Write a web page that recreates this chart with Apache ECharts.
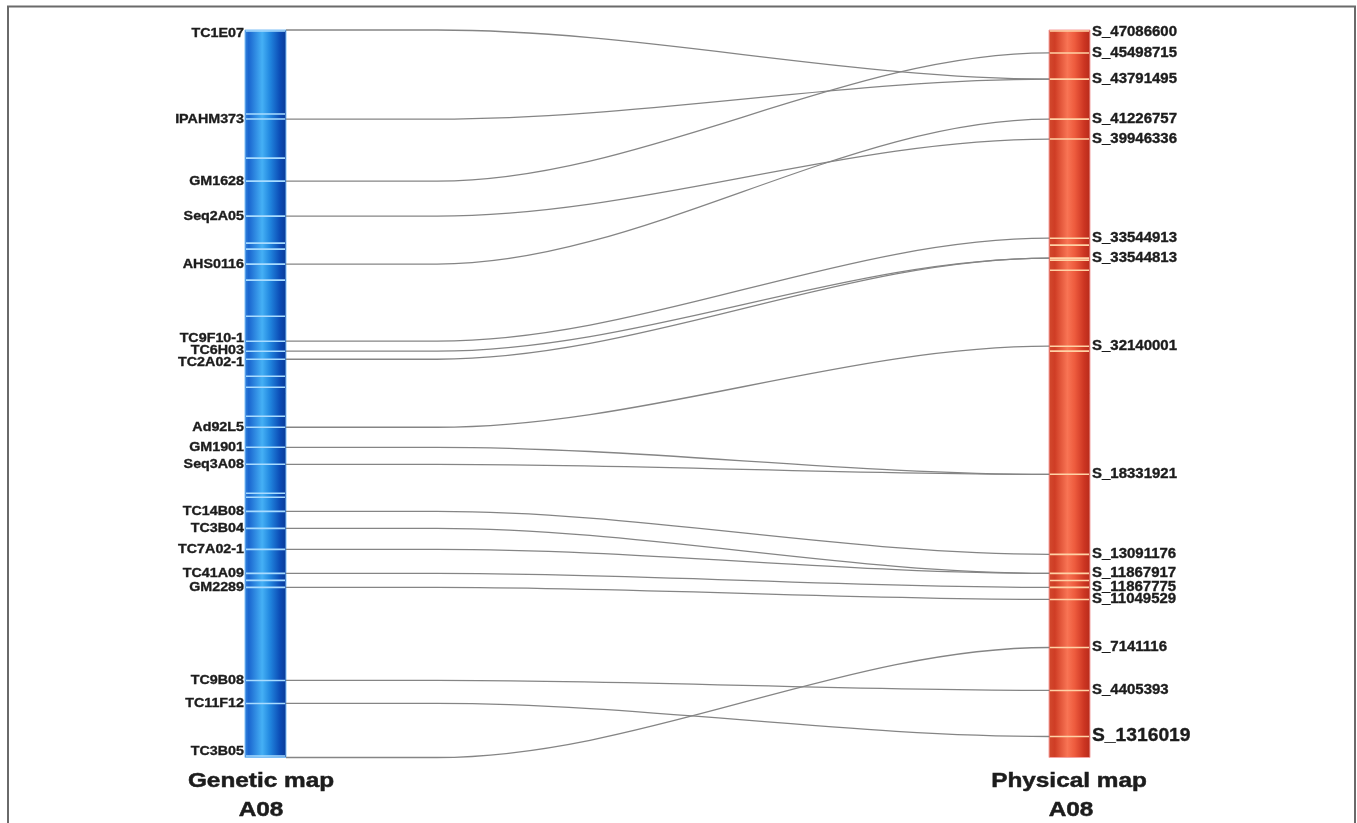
<!DOCTYPE html>
<html>
<head>
<meta charset="utf-8">
<script src="https://cdn.jsdelivr.net/npm/echarts@6/dist/echarts.min.js"></script>
<style>html,body{margin:0;padding:0;background:#fff}#chart{width:1357px;height:823px}</style>
</head>
<body>
<div id="chart"></div>
<script>
// ---------------- DATA ----------------
const geneticMarkers = ['TC1E07','IPAHM373','GM1628','Seq2A05','AHS0116','TC9F10-1','TC6H03','TC2A02-1',
  'Ad92L5','GM1901','Seq3A08','TC14B08','TC3B04','TC7A02-1','TC41A09','GM2289','TC9B08','TC11F12','TC3B05'];
// positions on genetic map (cM)
const geneticPos = [0, 17.8, 30.2, 37.2, 46.8, 62.2, 64.2, 65.8, 79.4, 83.4, 86.8, 96.2, 99.6, 103.8, 108.6, 111.4, 130.0, 134.6, 145.4];
const geneticExtraBands = [16.8, 25.6, 42.6, 43.8, 50.0, 57.2, 69.2, 71.4, 77.2, 92.6, 93.4, 110.0];
const GENETIC_LENGTH = 145.4;

const physicalMarkers = ['S_47086600','S_45498715','S_43791495','S_41226757','S_39946336','S_33544913','S_33544813',
  'S_32140001','S_18331921','S_13091176','S_11867917','S_11867775','S_11049529','S_7141116','S_4405393','S_1316019'];
// drawn positions on physical map (Mb)
const physicalPos = [47.02, 45.60, 43.91, 41.32, 40.03, 33.61, 32.32, 26.62, 18.33, 13.15, 11.92, 11.01, 10.23, 7.12, 4.34, 1.36];
const physicalExtraBands = [33.16, 32.19, 31.54, 26.30, 11.46];
const PHYSICAL_LENGTH = 47.0866;

const linkFrom = ['TC1E07','IPAHM373','GM1628','Seq2A05','AHS0116','TC9F10-1','TC6H03','TC2A02-1','Ad92L5',
  'GM1901','Seq3A08','TC14B08','TC3B04','TC7A02-1','TC41A09','GM2289','TC9B08','TC11F12','TC3B05'];
const linkTo = ['S_43791495','S_43791495','S_45498715','S_39946336','S_41226757','S_33544913','S_33544813','S_33544813','S_32140001',
  'S_18331921','S_18331921','S_13091176','S_11867917','S_11867917','S_11867775','S_11049529','S_4405393','S_1316019','S_7141116'];

const titleLeft = ['Genetic map', 'A08'];
const titleRight = ['Physical map', 'A08'];

// ---------------- STYLE ----------------
const BAR_W = 41;
const FLAT = 151;
const FONT = '"Liberation Sans", Arial, sans-serif';
const BIG_LABEL = 'S_1316019';
const TEXT_COLOR = '#1c1c1c';

const blueGrad = {type:'linear', x:0, y:0, x2:1, y2:0, colorStops:[
  {offset:0, color:'#3584dc'}, {offset:0.1, color:'#1a66cf'}, {offset:0.42, color:'#45b0f5'},
  {offset:0.6, color:'#2288e0'}, {offset:0.85, color:'#0b4bb5'}, {offset:1, color:'#0a3a96'}]};
const redGrad = {type:'linear', x:0, y:0, x2:1, y2:0, colorStops:[
  {offset:0, color:'#d24a2e'}, {offset:0.15, color:'#cf3d25'}, {offset:0.45, color:'#f87454'},
  {offset:0.62, color:'#ee5c3e'}, {offset:0.85, color:'#cc3522'}, {offset:1, color:'#b52a1a'}]};

function spread(ys, gap, lo, hi) {
  ys = ys.map(y => Math.min(Math.max(y, lo), hi));
  let groups = ys.map((y, i) => ({s: i, e: i}));
  const center = g => { let t = 0; for (let i = g.s; i <= g.e; i++) t += ys[i]; return t / (g.e - g.s + 1); };
  let changed = true;
  while (changed) {
    changed = false;
    for (let k = 0; k < groups.length - 1; k++) {
      const a = groups[k], b = groups[k + 1];
      const aBot = center(a) + (a.e - a.s) * gap / 2;
      const bTop = center(b) - (b.e - b.s) * gap / 2;
      if (bTop - aBot < gap - 1e-6) {
        groups.splice(k, 2, {s: a.s, e: b.e});
        changed = true; break;
      }
    }
  }
  const out = [];
  groups.forEach(g => { const c = center(g), n = g.e - g.s + 1;
    for (let i = g.s; i <= g.e; i++) out[i] = c + (i - g.s - (n - 1) / 2) * gap; });
  return out;
}

const chart = echarts.init(document.getElementById('chart'), null, {renderer: 'canvas'});

const leftBands = geneticPos.concat(geneticExtraBands);
const rightBands = physicalPos.concat(physicalExtraBands);
const linkData = linkFrom.map((f, i) => {
  const g = geneticPos[geneticMarkers.indexOf(f)];
  const p = physicalPos[physicalMarkers.indexOf(linkTo[i])];
  // physical position expressed on the genetic axis (both axes share the same grid extent)
  return [0, g, (PHYSICAL_LENGTH - p) / PHYSICAL_LENGTH * GENETIC_LENGTH];
});

function titleText(x, y, text) {
  return {type: 'text', x: x, y: y, scaleX: 1.16, silent: true,
    style: {text: text, font: 'bold 21px ' + FONT, fill: TEXT_COLOR, stroke: TEXT_COLOR, lineWidth: 0.5,
      align: 'center', verticalAlign: 'middle', textAlign: 'center', textVerticalAlign: 'middle'}};
}

const option = {
  animation: false,
  backgroundColor: '#fff',
  grid: {left: 245, right: 267, top: 30, bottom: 65.5},
  xAxis: {type: 'value', min: 0, max: 1, show: false},
  yAxis: [
    {type: 'value', min: 0, max: GENETIC_LENGTH, inverse: true, show: false},
    {type: 'value', min: 0, max: PHYSICAL_LENGTH, show: false}
  ],
  graphic: [
    {type: 'polyline', silent: true, shape: {points: [[8, 823], [8, 6.5], [1355, 6.5], [1355, 823]]},
      style: {stroke: '#6a6a6a', lineWidth: 2, fill: null}},
    titleText(261, 781, titleLeft[0]),
    titleText(261, 810, titleLeft[1]),
    titleText(1069, 781, titleRight[0]),
    titleText(1071, 810, titleRight[1])
  ],
  series: [
    { // genetic bar
      type: 'custom', xAxisIndex: 0, yAxisIndex: 0, data: [[0, 0]], silent: true,
      renderItem: (params, api) => {
        const a = api.coord([0, 0]), b = api.coord([0, GENETIC_LENGTH]);
        return {type: 'rect', shape: {x: a[0], y: a[1], width: BAR_W, height: b[1] - a[1]},
          style: {fill: blueGrad, stroke: '#7fbff5', lineWidth: 1}};
      }
    },
    { // physical bar
      type: 'custom', xAxisIndex: 0, yAxisIndex: 1, data: [[1, 0]], silent: true,
      renderItem: (params, api) => {
        const a = api.coord([1, PHYSICAL_LENGTH]), b = api.coord([1, 0]);
        return {type: 'rect', shape: {x: a[0] - BAR_W, y: a[1], width: BAR_W, height: b[1] - a[1]},
          style: {fill: redGrad, stroke: '#f4a3a3', lineWidth: 1}};
      }
    },
    { // genetic bands
      type: 'custom', xAxisIndex: 0, yAxisIndex: 0, data: leftBands.map(v => [0, v]), silent: true,
      renderItem: (params, api) => {
        const p = api.coord([0, api.value(1)]);
        const y = Math.min(Math.max(p[1], 31), 756);
        return {type: 'line', shape: {x1: p[0] + 1, y1: y, x2: p[0] + BAR_W - 1, y2: y},
          style: {stroke: '#a9dcff', lineWidth: 1.6}};
      }
    },
    { // physical bands
      type: 'custom', xAxisIndex: 0, yAxisIndex: 1, data: rightBands.map(v => [1, v]), silent: true,
      renderItem: (params, api) => {
        const p = api.coord([1, api.value(1)]);
        return {type: 'line', shape: {x1: p[0] - BAR_W + 1, y1: p[1], x2: p[0] - 1, y2: p[1]},
          style: {stroke: '#ffd2a6', lineWidth: 1.6}};
      }
    },
    { // links
      type: 'custom', xAxisIndex: 0, yAxisIndex: 0, data: linkData, silent: true,
      renderItem: (params, api) => {
        const p1 = api.coord([0, api.value(1)]);
        const p2 = api.coord([1, api.value(2)]);
        const x1 = p1[0] + BAR_W, y1 = p1[1], x2 = p2[0] - BAR_W, y2 = p2[1];
        const xs = x1 + FLAT, dx = x2 - xs;
        return {type: 'group', children: [
          {type: 'line', shape: {x1: x1, y1: y1, x2: xs, y2: y1}, style: {stroke: '#858585', lineWidth: 1.3}},
          {type: 'bezierCurve', shape: {x1: xs, y1: y1, cpx1: xs + dx / 3, cpy1: y1, cpx2: xs + 2 * dx / 3, cpy2: y2, x2: x2, y2: y2},
            style: {stroke: '#858585', lineWidth: 1.3, fill: null}}
        ]};
      }
    },
    { // genetic labels
      type: 'custom', xAxisIndex: 0, yAxisIndex: 0, data: geneticPos.map(v => [0, v]), silent: true,
      renderItem: (params, api) => {
        const top = api.coord([0, 0])[1], bot = api.coord([0, GENETIC_LENGTH])[1];
        const ys = spread(geneticPos.map(v => api.coord([0, v])[1]), 12, top + 3, bot - 6);
        const x = api.coord([0, 0])[0] - 1;
        return {type: 'text', x: x, y: ys[params.dataIndex], scaleX: 1.1,
          style: {text: geneticMarkers[params.dataIndex], font: 'bold 13px ' + FONT, fill: TEXT_COLOR,
            stroke: TEXT_COLOR, lineWidth: 0.35,
            align: 'right', verticalAlign: 'middle', textAlign: 'right', textVerticalAlign: 'middle'}};
      }
    },
    { // physical labels
      type: 'custom', xAxisIndex: 0, yAxisIndex: 1, data: physicalPos.map(v => [1, v]), silent: true,
      renderItem: (params, api) => {
        const top = api.coord([1, PHYSICAL_LENGTH])[1], bot = api.coord([1, 0])[1];
        const ys = spread(physicalPos.map(v => api.coord([1, v])[1]), 12, top + 2, bot);
        const x = api.coord([1, 0])[0] + 2;
        const name = physicalMarkers[params.dataIndex];
        const big = name === BIG_LABEL;
        return {type: 'text', x: x, y: ys[params.dataIndex], scaleX: 1.07,
          style: {text: name, font: 'bold ' + (big ? 18 : 14) + 'px ' + FONT, fill: TEXT_COLOR,
            stroke: TEXT_COLOR, lineWidth: 0.35,
            align: 'left', verticalAlign: 'middle', textAlign: 'left', textVerticalAlign: 'middle'}};
      }
    }
  ]
};
chart.setOption(option);
</script>
</body>
</html>
